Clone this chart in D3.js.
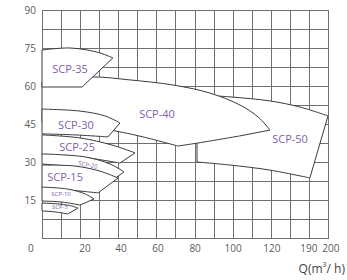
<!DOCTYPE html>
<html>
<head>
<meta charset="utf-8">
<script src="https://cdn.jsdelivr.net/npm/d3@7"></script>
<style>
html,body{margin:0;padding:0;background:#fff;}
svg{display:block;}
</style>
</head>
<body>
<script>
// ---- data ----
const xDomain = [0, 150];
const yDomain = [0, 90];
const xGridStep = 10;
const yGridStep = 7.5;
const yTicks = [15, 30, 45, 60, 75, 90];
const xTickPos = [-5.8, 22.6, 41.4, 60.8, 80.3, 100.2, 120.6, 140.0, 151.5];
const xTickLabels = ["0", "20", "40", "60", "80", "100", "120", "190", "200"];

const models = ["SCP-50", "SCP-40", "SCP-35", "SCP-30", "SCP-25", "SCP-20", "SCP-15", "SCP-10", "SCP-5"];
// each model: list of edges (curved pieces), drawn in order and closed
const scp50Edges = [
  [[81.3,56.5],[98.6,55.7],[119.6,54.1],[135.3,51.7],[150.0,48.2]],
  [[140.5,23.7],[119.6,26.8],[98.6,28.8],[81.3,30.0]]
];
const scp40Edges = [
  [[0,61.6],[25.2,63.6],[46.1,62.4],[68.7,60.4],[88.1,57.2],[103.8,52.5],[113.3,47.8],[119.6,42.6]],
  [[103.8,40.3],[81.8,37.5],[71.3,36.3]],
  [[71.3,36.3],[53.0,39.9],[35.7,42.6],[0,45.8]]
];
const scp35Edges = [
  [[0,74.2],[14.7,75.0],[28.8,73.4],[37.2,71.1]],
  [[21.0,59.6],[0,59.6]]
];
const scp30Edges = [
  [[0,50.9],[19.9,50.1],[33.0,48.2],[40.9,45.4]],
  [[34.6,39.9],[17.3,40.7],[0,41.1]]
];
const scp25Edges = [
  [[0,40.7],[19.9,39.5],[36.7,36.7],[48.8,33.6]],
  [[40.9,29.6],[19.9,32.0],[0,32.8]]
];
const scp20Edges = [
  [[0,33.2],[22.6,32.0],[35.7,29.2],[43.0,26.1]],
  [[37.2,22.9],[22.6,27.2],[0,29.2]]
];
const scp15Edges = [
  [[0,28.8],[17.3,28.4],[30.4,26.4],[39.9,23.7]],
  [[29.4,17.8],[14.7,18.9],[0,19.7]]
];
const scp10Edges = [
  [[0,20.1],[13.6,19.3],[22.6,17.4],[27.3,15.4]],
  [[19.9,13.0],[10.5,14.2],[0,14.6]]
];
const scp5Edges = [
  [[0,13.8],[9.4,13.4],[15.7,12.6],[18.9,11.8]],
  [[13.6,9.5],[6.8,10.3],[0,10.7]]
];
const modelEdges = [scp50Edges, scp40Edges, scp35Edges, scp30Edges, scp25Edges, scp20Edges, scp15Edges, scp10Edges, scp5Edges];
const labelX = [130.1, 60.3, 14.7, 17.8, 18.4, 24.1, 12.1, 10.0, 9.4];
const labelY = [39.1, 49.0, 67.1, 45.0, 36.3, 28.8, 24.1, 17.4, 12.2];
const labelSize = [11, 11, 11, 11, 11, 6, 11, 6, 6];
const labelRotate = [0, 0, 0, 0, 0, 12, 0, 0, 0];

// ---- chart ----
const W = 347, H = 280;
const svg = d3.select("body").append("svg").attr("width", W).attr("height", H);
const x = d3.scaleLinear().domain(xDomain).range([42, 328]);
const y = d3.scaleLinear().domain(yDomain).range([238, 10]);

const grid = svg.append("g").attr("stroke", "#707070").attr("stroke-width", 1);
d3.range(xDomain[0], xDomain[1] + 0.01, xGridStep).forEach(v => {
  const px = Math.round(x(v)) + 0.5;
  grid.append("line").attr("x1", px).attr("x2", px).attr("y1", y(yDomain[1])).attr("y2", y(0));
});
d3.range(yDomain[0], yDomain[1] + 0.01, yGridStep).forEach(v => {
  const py = Math.round(y(v)) + 0.5;
  grid.append("line").attr("x1", x(0)).attr("x2", x(xDomain[1]) + 1).attr("y1", py).attr("y2", py);
});

const curve = d3.line().x(d => x(d[0])).y(d => y(d[1])).curve(d3.curveCatmullRom.alpha(0.5));
function shapePath(edges) {
  let p = "";
  edges.forEach((e, i) => {
    let s = curve(e);
    if (i > 0) s = "L" + s.slice(1);
    p += s;
  });
  return p + "Z";
}

svg.append("g").selectAll("path").data(models).join("path")
  .attr("d", (d, i) => shapePath(modelEdges[i]))
  .attr("fill", "#fff")
  .attr("stroke", "#3a3a3a")
  .attr("stroke-width", 1)
  .attr("stroke-linejoin", "miter");

svg.append("g").selectAll("text").data(models).join("text")
  .attr("transform", (d, i) => `translate(${x(labelX[i])},${y(labelY[i])}) rotate(${labelRotate[i]})`)
  .attr("text-anchor", "middle")
  .attr("dominant-baseline", "central")
  .attr("font-family", "'Open Sans', sans-serif")
  .attr("font-size", (d, i) => labelSize[i])
  .attr("fill", "#8060aa")
  .text(d => d);

svg.append("g").selectAll("text").data(yTicks).join("text")
  .attr("x", 36).attr("y", d => y(d))
  .attr("text-anchor", "end").attr("dominant-baseline", "central")
  .attr("font-family", "'Open Sans', sans-serif").attr("font-size", 10)
  .attr("fill", "#5a5a5a").text(d => d);

svg.append("g").selectAll("text").data(xTickLabels).join("text")
  .attr("x", (d, i) => x(xTickPos[i])).attr("y", 248)
  .attr("text-anchor", "middle").attr("dominant-baseline", "central")
  .attr("font-family", "'Open Sans', sans-serif").attr("font-size", 10)
  .attr("fill", "#5a5a5a").text(d => d);

const q = svg.append("text").attr("x", 345).attr("y", 268)
  .attr("text-anchor", "end").attr("dominant-baseline", "central")
  .attr("font-family", "'Open Sans', sans-serif").attr("font-size", 12)
  .attr("fill", "#444");
q.append("tspan").text("Q(m");
q.append("tspan").attr("font-size", 7).attr("dy", -4).text("3");
q.append("tspan").attr("dy", 4).text("/ h)");
</script>
</body>
</html>
